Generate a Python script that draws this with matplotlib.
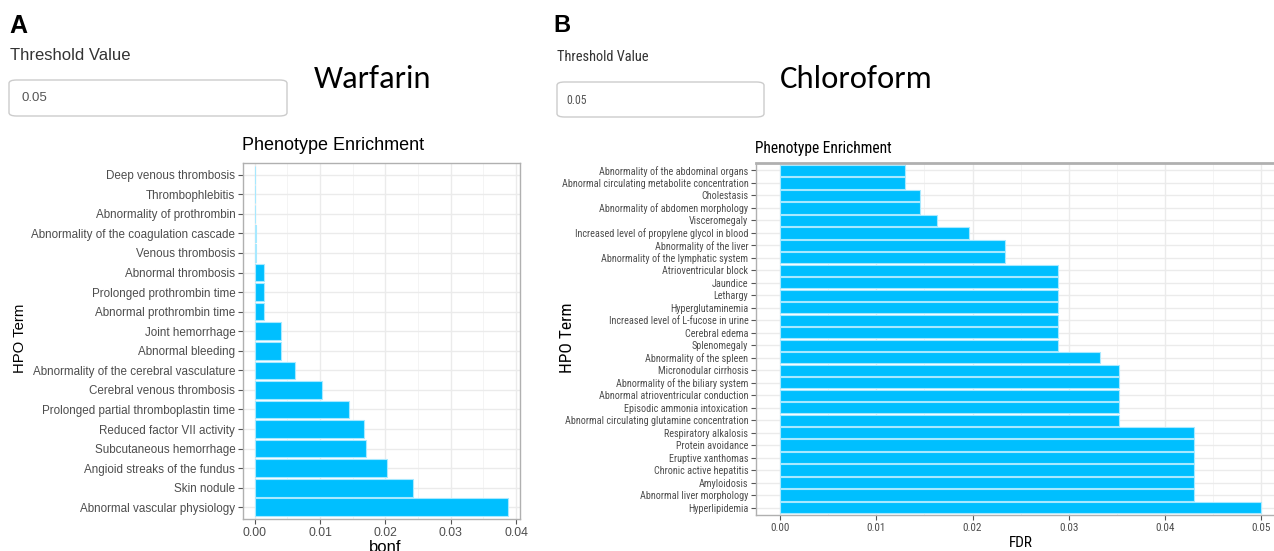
import matplotlib.pyplot as plt
from matplotlib.patches import FancyBboxPatch
from matplotlib.ticker import MultipleLocator

# warfarin phenotype enrichment (bonferroni)
warf_terms = [
    "Deep venous thrombosis", "Thrombophlebitis", "Abnormality of prothrombin",
    "Abnormality of the coagulation cascade", "Venous thrombosis",
    "Abnormal thrombosis", "Prolonged prothrombin time", "Abnormal prothrombin time",
    "Joint hemorrhage", "Abnormal bleeding", "Abnormality of the cerebral vasculature",
    "Cerebral venous thrombosis", "Prolonged partial thromboplastin time",
    "Reduced factor VII activity", "Subcutaneous hemorrhage",
    "Angioid streaks of the fundus", "Skin nodule", "Abnormal vascular physiology",
]
warf_bonf = [0.0, 0.00005, 0.0001, 0.00015, 0.0002, 0.00147, 0.0015, 0.0015,
             0.0040, 0.0040, 0.0061, 0.0103, 0.0144, 0.0168, 0.0171, 0.0203,
             0.0242, 0.0388]

# chloroform phenotype enrichment (FDR)
chl_terms = [
    "Abnormality of the abdominal organs", "Abnormal circulating metabolite concentration",
    "Cholestasis", "Abnormality of abdomen morphology", "Visceromegaly",
    "Increased level of propylene glycol in blood", "Abnormality of the liver",
    "Abnormality of the lymphatic system", "Atrioventricular block", "Jaundice",
    "Lethargy", "Hyperglutaminemia", "Increased level of L-fucose in urine",
    "Cerebral edema", "Splenomegaly", "Abnormality of the spleen",
    "Micronodular cirrhosis", "Abnormality of the biliary system",
    "Abnormal atrioventricular conduction", "Episodic ammonia intoxication",
    "Abnormal circulating glutamine concentration", "Respiratory alkalosis",
    "Protein avoidance", "Eruptive xanthomas", "Chronic active hepatitis",
    "Amyloidosis", "Abnormal liver morphology", "Hyperlipidemia",
]
chl_fdr = [0.0130, 0.0130, 0.0145, 0.0145, 0.0163, 0.0196, 0.0234, 0.0234,
           0.0289, 0.0289, 0.0289, 0.0289, 0.0289, 0.0289, 0.0289, 0.0332,
           0.0352, 0.0352, 0.0352, 0.0352, 0.0352, 0.0430, 0.0430, 0.0430,
           0.0430, 0.0430, 0.0430, 0.0500]

W, H = 1274, 551
fig = plt.figure(figsize=(W / 100, H / 100), dpi=100)

SANS = ['Liberation Sans', 'DejaVu Sans']
NARROW = ['Roboto Condensed', 'Liberation Sans', 'DejaVu Sans']
CALIB = ['Carlito', 'Lato', 'DejaVu Sans']
BAR = '#00BFFF'


def box(l, t, r, b):
    return [l / W, 1 - b / H, (r - l) / W, (b - t) / H]


def ftext(x, y, s, **kw):
    fig.text(x / W, 1 - y / H, s, **kw)


def input_box(l, t, r, b):
    p = FancyBboxPatch((l / W, 1 - b / H), (r - l) / W, (b - t) / H,
                       boxstyle='round,pad=0,rounding_size=0.006',
                       transform=fig.transFigure, facecolor='white',
                       edgecolor='#CCCCCC', linewidth=1.0)
    fig.patches.append(p)


def enrichment(ax, terms, vals, xlim, fam, ysize, xsize):
    y = list(range(len(terms)))
    ax.barh(y, vals, height=0.9, color=BAR, edgecolor='#A8E9FF', linewidth=0.8, zorder=3)
    ax.set_ylim(len(terms) - 0.4, -0.6)
    ax.set_xlim(*xlim)
    ax.set_yticks(y)
    ax.set_yticklabels(terms, fontfamily=fam, fontsize=ysize, color='#4D4D4D')
    ax.xaxis.set_major_locator(MultipleLocator(0.01))
    ax.xaxis.set_minor_locator(MultipleLocator(0.005))
    ax.set_xticklabels([f"{v:.2f}" for v in ax.get_xticks()], fontfamily=fam,
                       fontsize=xsize, color='#4D4D4D')
    ax.grid(True, which='major', color='#EBEBEB', lw=1.0, zorder=0)
    ax.grid(True, which='minor', axis='x', color='#F3F3F3', lw=0.6, zorder=0)
    ax.tick_params(which='major', length=3.5, width=0.8, color='#555555', pad=2)
    ax.tick_params(which='minor', length=0)
    for s in ax.spines.values():
        s.set_color('#B0B0B0')
        s.set_linewidth(1.0)
    ax.set_axisbelow(True)


# panel A
axA = fig.add_axes(box(243, 163, 520, 519))
enrichment(axA, warf_terms, warf_bonf, (-0.00179, 0.0406), SANS, 8.4, 8.8)

# panel B (cut off at the right edge)
axB = fig.add_axes(box(756, 163, 1274, 515))
enrichment(axB, chl_terms, chl_fdr, (-0.00249, 0.0513), NARROW, 7.3, 8.0)
axB.spines['right'].set_visible(False)
axB.spines['top'].set_linewidth(2.0)

# panel letters, threshold inputs, drug names
ftext(9, 26, 'A', fontfamily=SANS, fontsize=18, fontweight='bold', va='center')
ftext(553, 26, 'B', fontfamily=SANS, fontsize=17, fontweight='bold', va='center')

ftext(10, 55, 'Threshold Value', fontfamily=SANS, fontsize=12, color='#333333', va='center')
input_box(9, 80, 287, 116)
ftext(21, 98, '0.05', fontfamily=SANS, fontsize=9.5, color='#555555', va='center')

ftext(557, 57, 'Threshold Value', fontfamily=NARROW, fontsize=10.4, color='#333333', va='center')
input_box(557, 82, 764, 117)
ftext(566, 100, '0.05', fontfamily=NARROW, fontsize=8.5, color='#555555', va='center')

ftext(314, 79, 'Warfarin', fontfamily=CALIB, fontsize=23.5, va='center')
ftext(780, 79, 'Chloroform', fontfamily=CALIB, fontsize=23.5, va='center')

# titles and axis labels
ftext(242, 146, 'Phenotype Enrichment', fontfamily=SANS, fontsize=13, va='center')
ftext(755, 148, 'Phenotype Enrichment', fontfamily=NARROW, fontsize=11.2, va='center')
ftext(20, 338, 'HPO Term', fontfamily=SANS, fontsize=10.7, rotation=90, ha='center', va='center')
ftext(567, 338, 'HPO Term', fontfamily=NARROW, fontsize=12.5, rotation=90, ha='center', va='center')
ftext(385, 547, 'bonf', fontfamily=SANS, fontsize=12, ha='center', va='center')
ftext(1021, 543, 'FDR', fontfamily=NARROW, fontsize=11, ha='center', va='center')

fig.savefig('out.png', dpi=100)
